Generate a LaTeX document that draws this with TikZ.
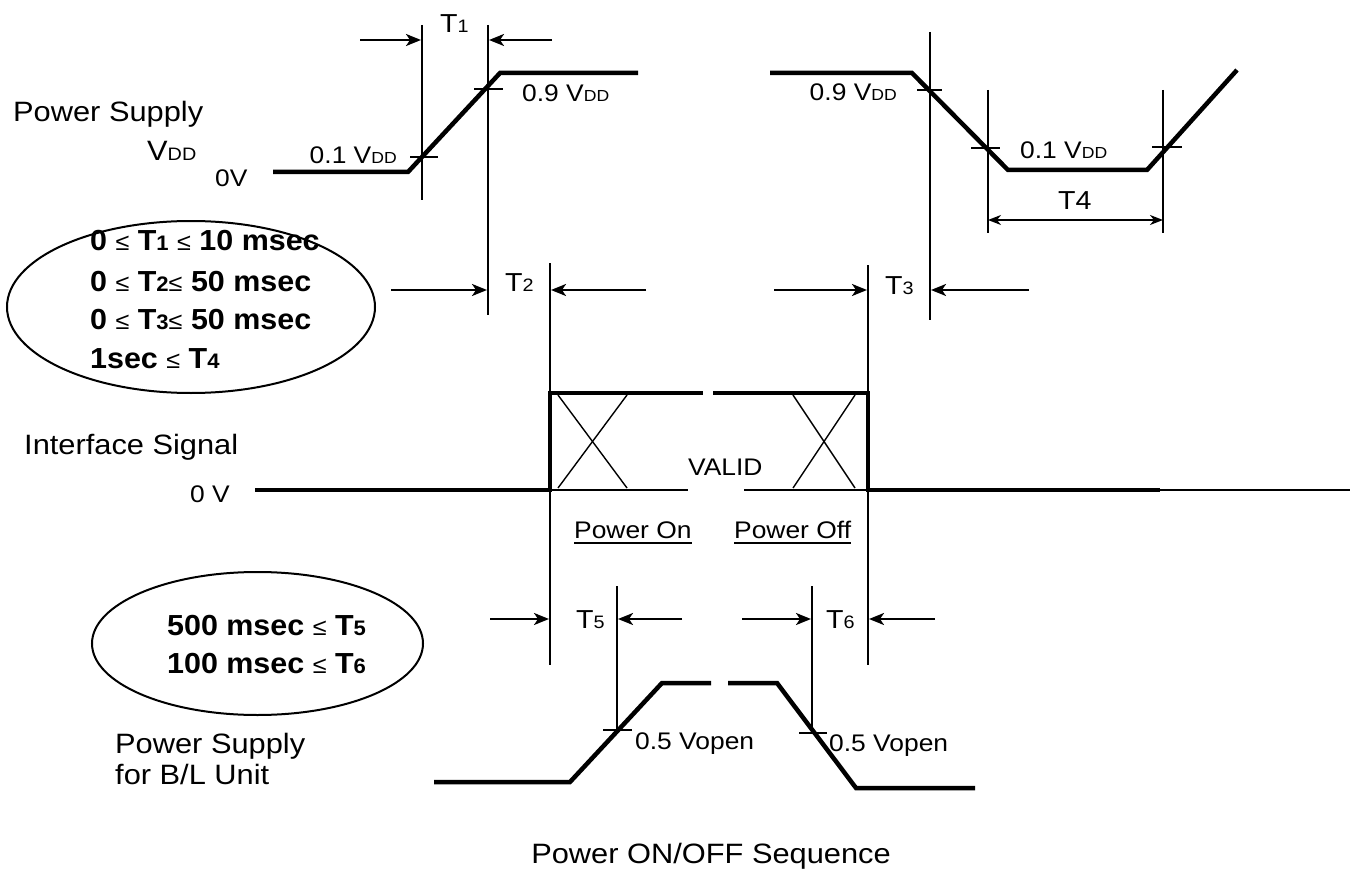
\documentclass[tikz,border=0pt]{standalone}
\usepackage{fontspec}
\setmainfont{Liberation Sans}[FakeStretch=1.1]
\newfontfamily\boldfam{Liberation Sans}[FakeStretch=1.05]
\usetikzlibrary{arrows.meta,shapes.geometric}
\newcommand{\setfs}[1]{\fontsize{#1}{#1}\selectfont}
\newcommand{\subd}[2]{{\setfs{#1}#2}}
\begin{document}
\begin{tikzpicture}[x=1pt,y=-1pt,
  wave/.style={line width=4.5pt,line join=miter},
  thinline/.style={line width=1.4pt},
  dimarrow/.style={line width=2.2pt,-{Stealth[length=15pt,width=12pt,inset=4pt]}},
  dimboth/.style={line width=1.6pt,{Stealth[length=13pt,width=10pt,inset=4pt]}-{Stealth[length=13pt,width=10pt,inset=4pt]}},
  oval/.style={draw,ellipse,line width=2pt,inner sep=0pt},
  txt/.style={inner sep=0pt,anchor=base west},
  bigtxt/.style={txt,font=\setfs{28}},
  smalltxt/.style={txt,font=\setfs{24}},
  tlab/.style={txt,font=\setfs{26}},
  spec/.style={txt,font=\boldfam\bfseries\setfs{29}},
]
\useasboundingbox (0,0) rectangle (1353,872);

% ---------- left labels ----------
\node[bigtxt] (ps) at (13,122) {Power Supply};
\node[txt,font=\setfs{28}] (vdd) at (147,161) {V\subd{18}{DD}};
\node[smalltxt] (zv) at (215,186) {0V};
\node[bigtxt] (ifs) at (24,454) {Interface Signal};
\node[smalltxt] (zv2) at (190,502) {0 V};
\node[bigtxt] (psb1) at (115,753) {Power Supply};
\node[bigtxt] (psb2) at (115,784) {for B/L Unit};
\node[bigtxt,anchor=base] (cap) at (711,863) {Power ON/OFF Sequence};

% ---------- ellipses ----------
\node[oval,minimum width=368pt,minimum height=172pt] (e1) at (191,307) {};
\node[spec] (s1) at (90,251) {0 {\mdseries\setfs{24}≤} T\subd{21}{1} {\mdseries\setfs{24}≤} 10 msec};
\node[spec] (s2) at (90,291) {0 {\mdseries\setfs{24}≤} T\subd{21}{2}{\mdseries\setfs{24}≤} 50 msec};
\node[spec] (s3) at (90,329) {0 {\mdseries\setfs{24}≤} T\subd{21}{3}{\mdseries\setfs{24}≤} 50 msec};
\node[spec] (s4) at (90,368) {1sec {\mdseries\setfs{24}≤} T\subd{21}{4}};
\node[oval,minimum width=331pt,minimum height=143pt] (e2) at (257.5,643.5) {};
\node[spec] (s5) at (167,635) {500 msec {\mdseries\setfs{24}≤} T\subd{21}{5}};
\node[spec] (s6) at (167,673) {100 msec {\mdseries\setfs{24}≤} T\subd{21}{6}};

% ---------- power supply VDD, power on ----------
\coordinate (a0) at (273,172);
\coordinate (a1) at (408,172);
\coordinate (a2) at (500,73);
\coordinate (a3) at (638,73);
\draw[wave] (a0) -- (a1) -- (a2) -- (a3);
\coordinate (v1t) at (422,25);  \coordinate (v1b) at (422,200);
\coordinate (v2t) at (488,25);  \coordinate (v2b) at (488,315);
\draw[thinline] (v1t) -- (v1b);
\draw[thinline] (v2t) -- (v2b);
\draw[thinline] (410,157) -- (438,157);
\draw[thinline] (474,89) -- (503,89);
\node[smalltxt,anchor=base east] (l01a) at (397,164) {0.1 V\subd{16}{DD}};
\node[smalltxt] (l09a) at (522,102) {0.9 V\subd{16}{DD}};
\coordinate (t1l) at (360,40); \coordinate (t1lt) at (421,40);
\coordinate (t1r) at (552,40); \coordinate (t1rt) at (489,40);
\draw[dimarrow] (t1l) -- (t1lt);
\draw[dimarrow] (t1r) -- (t1rt);
\node[tlab] (T1) at (440,33) {T\subd{18}{1}};

% ---------- power supply VDD, power off ----------
\coordinate (b0) at (770,73);
\coordinate (b1) at (912,73);
\coordinate (b2) at (1008,170);
\coordinate (b3) at (1147,170);
\coordinate (b4) at (1237,70);
\draw[wave] (b0) -- (b1) -- (b2) -- (b3) -- (b4);
\coordinate (v3t) at (930,32);  \coordinate (v3b) at (930,320);
\coordinate (v4t) at (988,90);  \coordinate (v4b) at (988,233);
\coordinate (v5t) at (1163,90); \coordinate (v5b) at (1163,233);
\draw[thinline] (v3t) -- (v3b);
\draw[thinline] (v4t) -- (v4b);
\draw[thinline] (v5t) -- (v5b);
\draw[thinline] (917,90) -- (942,90);
\draw[thinline] (971,148) -- (1000,148);
\draw[thinline] (1152,147) -- (1182,147);
\node[smalltxt,anchor=base east] (l09b) at (897,101) {0.9 V\subd{16}{DD}};
\node[smalltxt] (l01b) at (1020,159) {0.1 V\subd{16}{DD}};
\coordinate (t4l) at (988,220); \coordinate (t4r) at (1163,220);
\draw[dimboth] (t4l) -- (t4r);
\node[tlab] (T4) at (1058,209) {T4};

% ---------- T2 / T3 ----------
\coordinate (v6t) at (550,263); \coordinate (v6b) at (550,665);
\coordinate (v7t) at (868,265); \coordinate (v7b) at (868,665);
\draw[thinline] (v6t) -- (v6b);
\draw[thinline] (v7t) -- (v7b);
\coordinate (t2l) at (391,290); \coordinate (t2lt) at (487,290);
\coordinate (t2r) at (646,290); \coordinate (t2rt) at (551,290);
\draw[dimarrow] (t2l) -- (t2lt);
\draw[dimarrow] (t2r) -- (t2rt);
\node[tlab] (T2) at (505,291) {T\subd{18}{2}};
\coordinate (t3l) at (774,290); \coordinate (t3lt) at (867,290);
\coordinate (t3r) at (1029,290); \coordinate (t3rt) at (931,290);
\draw[dimarrow] (t3l) -- (t3lt);
\draw[dimarrow] (t3r) -- (t3rt);
\node[tlab] (T3) at (885,294) {T\subd{18}{3}};

% ---------- interface signal ----------
\coordinate (c0) at (255,490);
\coordinate (c1) at (550,490);
\coordinate (c2) at (550,393);
\coordinate (c3) at (703,393);
\coordinate (c4) at (713,393);
\coordinate (c5) at (868,393);
\coordinate (c6) at (868,490);
\coordinate (c7) at (1160,490);
\coordinate (c8) at (1350,490);
\draw[wave] (c0) -- (c1) -- (c2) -- (c3);
\draw[wave] (c4) -- (c5) -- (c6) -- (c7);
\draw[thinline] (c7) -- (c8);
\draw[thinline] (c1) -- (688,490);
\draw[thinline] (744,490) -- (c6);
\draw[thinline] (558,395) -- (627,488);
\draw[thinline] (627,395) -- (558,488);
\draw[thinline] (793,395) -- (855,488);
\draw[thinline] (855,395) -- (793,488);
\node[smalltxt] (valid) at (688,475) {VALID};
\node[smalltxt] (pon) at (574,538) {Power On};
\node[smalltxt] (poff) at (734,538) {Power Off};
\draw[thinline] ([yshift=-5pt]pon.base west) -- ([yshift=-5pt]pon.base east);
\draw[thinline] ([yshift=-5pt]poff.base west) -- ([yshift=-5pt]poff.base east);

% ---------- backlight supply ----------
\coordinate (d0) at (434,782);
\coordinate (d1) at (570,782);
\coordinate (d2) at (662,683);
\coordinate (d3) at (711,683);
\coordinate (d4) at (728,683);
\coordinate (d5) at (777,683);
\coordinate (d6) at (856,788);
\coordinate (d7) at (975,788);
\draw[wave] (d0) -- (d1) -- (d2) -- (d3);
\draw[wave] (d4) -- (d5) -- (d6) -- (d7);
\coordinate (v8t) at (617,586); \coordinate (v8b) at (617,730);
\coordinate (v9t) at (812,586); \coordinate (v9b) at (812,733);
\draw[thinline] (v8t) -- (v8b);
\draw[thinline] (v9t) -- (v9b);
\draw[thinline] (603,730) -- (632,730);
\draw[thinline] (799,733) -- (827,733);
\node[smalltxt] (vo1) at (635,749) {0.5 Vopen};
\node[smalltxt] (vo2) at (829,751) {0.5 Vopen};
\coordinate (t5l) at (490,619); \coordinate (t5lt) at (549,619);
\coordinate (t5r) at (682,619); \coordinate (t5rt) at (618,619);
\draw[dimarrow] (t5l) -- (t5lt);
\draw[dimarrow] (t5r) -- (t5rt);
\node[tlab] (T5) at (576,628) {T\subd{18}{5}};
\coordinate (t6l) at (742,619); \coordinate (t6lt) at (811,619);
\coordinate (t6r) at (935,619); \coordinate (t6rt) at (869,619);
\draw[dimarrow] (t6l) -- (t6lt);
\draw[dimarrow] (t6r) -- (t6rt);
\node[tlab] (T6) at (826,628) {T\subd{18}{6}};
\end{tikzpicture}
\end{document}
